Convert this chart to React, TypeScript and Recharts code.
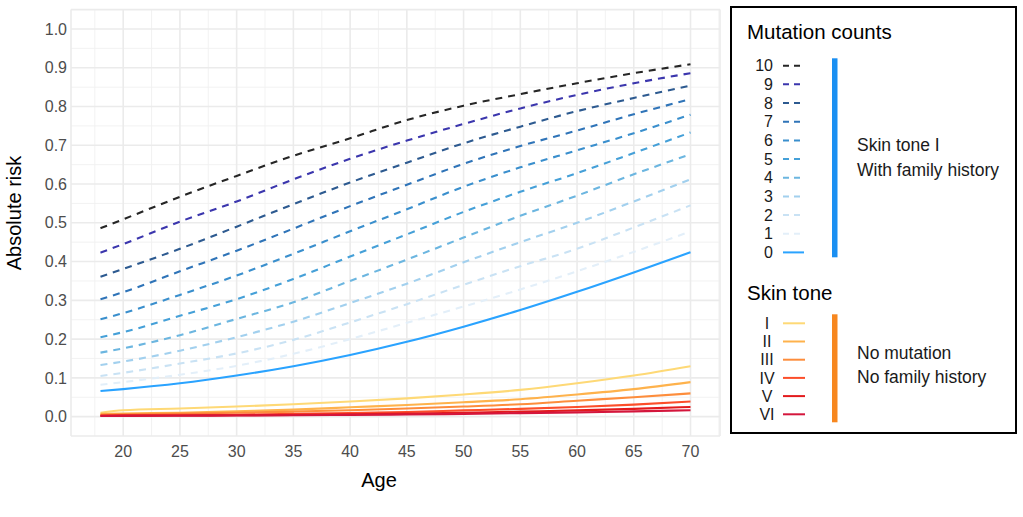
import React from 'react';
import { LineChart, Line, XAxis, YAxis, CartesianGrid } from 'recharts';

// ---------- data ----------
const ages = [18, 20, 25, 30, 35, 40, 45, 50, 55, 60, 65, 70];

const mutation10 = [0.486, 0.509, 0.567, 0.621, 0.673, 0.718, 0.765, 0.802, 0.832, 0.860, 0.886, 0.909];
const mutation9 = [0.423, 0.445, 0.503, 0.555, 0.612, 0.665, 0.712, 0.755, 0.795, 0.830, 0.860, 0.886];
const mutation8 = [0.361, 0.381, 0.433, 0.490, 0.548, 0.604, 0.655, 0.705, 0.748, 0.788, 0.822, 0.854];
const mutation7 = [0.303, 0.321, 0.375, 0.428, 0.485, 0.543, 0.598, 0.652, 0.698, 0.738, 0.780, 0.819];
const mutation6 = [0.251, 0.267, 0.314, 0.364, 0.420, 0.478, 0.535, 0.593, 0.643, 0.687, 0.731, 0.779];
const mutation5 = [0.205, 0.218, 0.260, 0.303, 0.355, 0.413, 0.470, 0.528, 0.580, 0.628, 0.680, 0.733];
const mutation4 = [0.165, 0.176, 0.210, 0.252, 0.295, 0.350, 0.405, 0.462, 0.518, 0.570, 0.625, 0.677];
const mutation3 = [0.133, 0.142, 0.170, 0.205, 0.245, 0.293, 0.343, 0.398, 0.450, 0.500, 0.555, 0.612];
const mutation2 = [0.105, 0.113, 0.137, 0.163, 0.198, 0.243, 0.290, 0.340, 0.388, 0.433, 0.488, 0.545];
const mutation1 = [0.082, 0.089, 0.108, 0.131, 0.162, 0.200, 0.242, 0.284, 0.328, 0.375, 0.425, 0.478];
const mutation0 = [0.066, 0.071, 0.086, 0.106, 0.130, 0.159, 0.193, 0.232, 0.275, 0.322, 0.372, 0.424];

const skinI = [0.010, 0.0165, 0.021, 0.026, 0.032, 0.039, 0.047, 0.057, 0.069, 0.086, 0.106, 0.130];
const skinII = [0.007, 0.008, 0.010, 0.014, 0.018, 0.024, 0.030, 0.037, 0.045, 0.057, 0.071, 0.089];
const skinIII = [0.005, 0.006, 0.008, 0.010, 0.013, 0.0165, 0.021, 0.026, 0.032, 0.041, 0.050, 0.060];
const skinIV = [0.003, 0.0035, 0.0045, 0.005, 0.007, 0.0095, 0.012, 0.016, 0.020, 0.025, 0.031, 0.039];
const skinV = [0.002, 0.0025, 0.003, 0.0035, 0.0045, 0.006, 0.008, 0.010, 0.013, 0.016, 0.020, 0.025];
const skinVI = [0.0015, 0.0018, 0.0022, 0.0028, 0.0035, 0.0045, 0.0055, 0.007, 0.009, 0.011, 0.0135, 0.0165];

const xTicks = [20, 25, 30, 35, 40, 45, 50, 55, 60, 65, 70];
const xMinor = [17.5, 22.5, 27.5, 32.5, 37.5, 42.5, 47.5, 52.5, 57.5, 62.5, 67.5, 72.5];
const yTicks = [0, 0.1, 0.2, 0.3, 0.4, 0.5, 0.6, 0.7, 0.8, 0.9, 1.0];
const yMinor = [0.05, 0.15, 0.25, 0.35, 0.45, 0.55, 0.65, 0.75, 0.85, 0.95];

const mutationLabels = ['10', '9', '8', '7', '6', '5', '4', '3', '2', '1', '0'];
const mutationValues = [mutation10, mutation9, mutation8, mutation7, mutation6, mutation5, mutation4, mutation3, mutation2, mutation1, mutation0];
const skinLabels = ['I', 'II', 'III', 'IV', 'V', 'VI'];
const skinValues = [skinI, skinII, skinIII, skinIV, skinV, skinVI];

const mutationGroupText = ['Skin tone I', 'With family history'];
const skinGroupText = ['No mutation', 'No family history'];

// ---------- styles ----------
const mutationColors = ['#262626', '#3b36ad', '#2d5a90', '#2f74b8', '#3a8fcd', '#45a0d8', '#6cb6e0', '#a2d0ee', '#c9e2f4', '#e3eff9', '#2aa3ff'];
const skinColors = ['#fed976', '#feb24c', '#fd8d3c', '#fc4e2a', '#e31a1c', '#d4163c'];
const FONT = '"Liberation Sans", Arial, Helvetica, sans-serif';

const rows = ages.map((a, i) => {
  const r: Record<string, number> = { age: a };
  mutationLabels.forEach((l, k) => { r['m' + l] = mutationValues[k][i]; });
  skinLabels.forEach((l, k) => { r['s' + l] = skinValues[k][i]; });
  return r;
});

const X_DOMAIN: [number, number] = [15.4, 72.6];
const Y_DOMAIN: [number, number] = [-0.05, 1.05];

function scaleOf(axis: any, domain: [number, number], start: number, size: number, invert: boolean) {
  if (axis && typeof axis.scale === 'function') return (v: number) => axis.scale(v);
  return (v: number) => {
    const t = (v - domain[0]) / (domain[1] - domain[0]);
    return invert ? start + size * (1 - t) : start + size * t;
  };
}

const Legend = () => {
  const rowH = 18.67;
  return (
    <svg width={1023} height={517} style={{ position: 'absolute', left: 0, top: 0, pointerEvents: 'none' }} fontFamily={FONT}>
      <text x={14} y={213} transform="rotate(-90 14 213)" textAnchor="middle" dominantBaseline="central" fontSize={20} fill="#000">Absolute risk</text>
      <text x={379} y={486.5} textAnchor="middle" fontSize={20} fill="#000">Age</text>

      <rect x={731} y={7} width={285} height={426} fill="none" stroke="#000" strokeWidth={2} />
      <text x={747} y={38.5} fontSize={20.5} fill="#000">Mutation counts</text>
      {mutationLabels.map((l, k) => {
        const cy = 65.7 + k * rowH;
        return (
          <g key={'ml' + l}>
            <text x={773} y={cy + 5.6} textAnchor="end" fontSize={16} fill="#1a1a1a">{l}</text>
            <line x1={783} x2={804} y1={cy} y2={cy} stroke={mutationColors[k]} strokeWidth={2}
              strokeDasharray={l === '0' ? undefined : '6 5'} />
          </g>
        );
      })}
      <rect x={832} y={58.3} width={5.5} height={199} fill="#1a8ff2" />
      {mutationGroupText.map((t, i) => (
        <text key={t} x={857} y={151 + i * 24.7} fontSize={17.5} fill="#1a1a1a">{t}</text>
      ))}

      <text x={747} y={300} fontSize={20.5} fill="#000">Skin tone</text>
      {skinLabels.map((l, k) => {
        const cy = 323.3 + k * 18.2;
        return (
          <g key={'sl' + l}>
            <text x={767} y={cy + 5.6} textAnchor="middle" fontSize={16} fill="#1a1a1a">{l}</text>
            <line x1={783} x2={805} y1={cy} y2={cy} stroke={skinColors[k]} strokeWidth={2} />
          </g>
        );
      })}
      <rect x={832} y={314.3} width={5.5} height={108} fill="#f7871f" />
      {skinGroupText.map((t, i) => (
        <text key={t} x={857} y={359.3 + i * 24} fontSize={17.5} fill="#1a1a1a">{t}</text>
      ))}
    </svg>
  );
};

export default function App() {
  return (
    <div style={{ position: 'absolute', left: 0, top: 0, width: 1023, height: 517, background: '#fff' }}>
      <LineChart width={1023} height={517} data={rows} margin={{ top: 9.6, right: 303, bottom: 0, left: 0 }}>
        <CartesianGrid
          stroke="#f0f0f0"
          strokeWidth={0.9}
          horizontalCoordinatesGenerator={(p: any) => {
            const f = scaleOf(p.yAxis, Y_DOMAIN, p.offset.top, p.offset.height, true);
            return yMinor.map((v) => f(v));
          }}
          verticalCoordinatesGenerator={(p: any) => {
            const f = scaleOf(p.xAxis, X_DOMAIN, p.offset.left, p.offset.width, false);
            return xMinor.map((v) => f(v));
          }}
        />
        <CartesianGrid stroke="#ebebeb" strokeWidth={1.6} />
        <XAxis
          dataKey="age"
          type="number"
          domain={X_DOMAIN}
          ticks={xTicks}
          allowDataOverflow
          height={81}
          axisLine={false}
          tickLine={false}
          tickSize={0}
          tickMargin={10}
          tick={{ fill: '#4d4d4d', fontSize: 16, fontFamily: FONT }}
        />
        <YAxis
          type="number"
          domain={Y_DOMAIN}
          ticks={yTicks}
          allowDataOverflow
          width={71}
          axisLine={false}
          tickLine={false}
          tickSize={0}
          tickMargin={4}
          tickFormatter={(v: number) => v.toFixed(1)}
          tick={{ fill: '#4d4d4d', fontSize: 16, fontFamily: FONT }}
        />
        {mutationLabels.slice().reverse().map((l) => {
          const k = mutationLabels.indexOf(l);
          return (
            <Line key={'m' + l} dataKey={'m' + l} type="monotone" stroke={mutationColors[k]} strokeWidth={2.1}
              strokeDasharray={l === '0' ? undefined : '7 6'} dot={false} activeDot={false} isAnimationActive={false} />
          );
        })}
        {skinLabels.map((l, k) => (
          <Line key={'s' + l} dataKey={'s' + l} type="monotone" stroke={skinColors[k]} strokeWidth={2.1}
            dot={false} activeDot={false} isAnimationActive={false} />
        ))}
      </LineChart>
      <Legend />
    </div>
  );
}
